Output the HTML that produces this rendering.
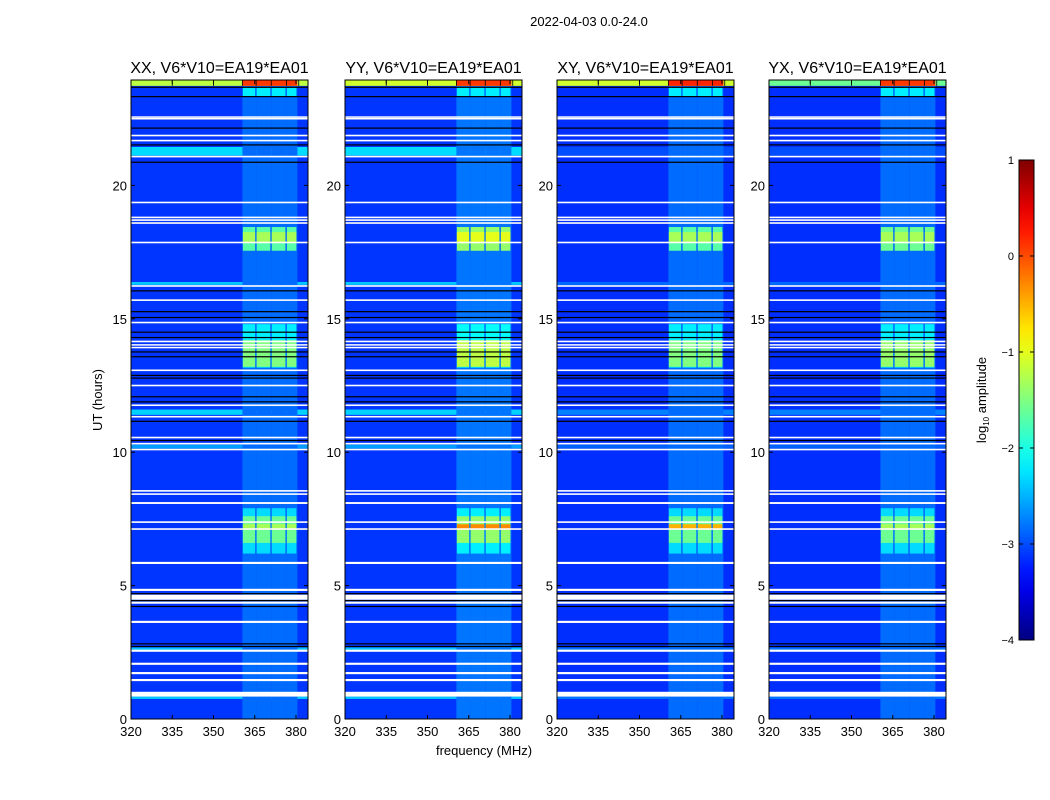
<!DOCTYPE html>
<html><head><meta charset="utf-8"><style>
body{margin:0;background:#fff;}
svg{display:block;font-family:"Liberation Sans",sans-serif;}
</style></head><body>
<svg id="chart" width="1050" height="800" xmlns="http://www.w3.org/2000/svg">
<text x="589" y="26" font-size="13" text-anchor="middle">2022-04-03 0.0-24.0</text>
<text x="484" y="755" font-size="13" text-anchor="middle">frequency (MHz)</text>
<text transform="translate(102,400) rotate(-90)" font-size="13" text-anchor="middle">UT (hours)</text>
<g id="panels"></g>
<g id="cbar"></g>
</svg>
<script>
const panelTitles = ["XX, V6*V10=EA19*EA01","YY, V6*V10=EA19*EA01","XY, V6*V10=EA19*EA01","YX, V6*V10=EA19*EA01"];
const xTicks = [320,335,350,365,380];
const yTicks = [0,5,10,15,20];
const cbTicks = [1,0,-1,-2,-3,-4];
const channels = [[360.5,365.5],[365.5,371],[371,376.5],[376.5,380.5]];
const backgroundLevel = [-3.12,-3.12,-3.15,-3.15];
const columnLevel = [-2.85,-2.8,-2.85,-2.85];
// flagged (white) time intervals, hours
const whiteFlags = [[0.84,1.02],[1.42,1.5],[1.68,1.76],[2.03,2.11],[2.52,2.6],[3.6,3.68],[4.32,4.4],[4.47,4.66],[4.8,4.88],[5.81,5.89],[7.09,7.15],[7.35,7.41],[8.06,8.13],[8.4,8.46],[8.52,8.58],[10.07,10.13],[10.29,10.35],[10.52,10.58],[11.3,11.36],[11.73,11.79],[12.47,12.53],[13.04,13.1],[13.9,13.95],[14.0,14.05],[14.12,14.18],[14.83,14.89],[15.67,15.73],[16.2,16.26],[17.83,17.89],[18.56,18.62],[18.67,18.73],[18.77,18.83],[19.33,19.39],[21.05,21.11],[21.65,21.71],[21.84,21.9],[22.47,22.53],[22.54,22.59]];
// black (zero) time rows
const blackFlags = [[2.7,2.74],[2.8,2.84],[4.2,4.24],[4.42,4.46],[4.68,4.72],[10.42,10.46],[11.14,11.18],[11.87,11.91],[12.06,12.1],[12.76,12.8],[12.86,12.9],[13.56,13.6],[13.74,13.78],[14.28,14.32],[14.48,14.52],[15.03,15.07],[15.25,15.29],[16.03,16.07],[20.85,20.89],[21.5,21.54],[22.13,22.17],[23.31,23.35],[23.66,23.7]];
// broadband enhanced rows: start, end, level per panel XX,YY,XY,YX
const bandRows = [[0.75,0.84,-2.4,-2.4,-2.8,-2.8],[2.6,2.68,-2.4,-2.4,-2.8,-2.8],[10.14,10.28,-2.6,-2.6,-2.9,-2.9],[11.4,11.6,-2.35,-2.35,-2.75,-2.75],[16.27,16.38,-2.4,-2.4,-2.85,-2.85],[21.12,21.44,-2.3,-2.3,-3.0,-3.0]];
// RFI blocks in channels: start, end, level XX,YY,XY,YX
const blocks = [[6.2,7.9,-2.3,-2.2,-2.3,-2.3],[6.6,7.6,-1.6,-1.4,-1.6,-1.6],[7.1,7.3,-1.3,-0.3,-0.5,-1.3],[13.17,14.8,-2.2,-2.1,-2.2,-2.2],[13.2,14.2,-1.5,-1.2,-1.5,-1.4],[17.55,18.44,-1.7,-1.4,-1.7,-1.6],[17.85,18.25,-1.3,-1.0,-1.3,-1.3],[23.35,23.66,-2.2,-2.2,-2.2,-2.2]];
// top row (23.73-24): level left of channels, level in channels
const topRowLeft = [-1.2,-1.1,-1.1,-1.6];
const topRowChan = [0.1,0.1,0.2,0.1];

function jet(v){const t=Math.max(0,Math.min(1,(v+4)/5));const c=x=>Math.round(255*Math.max(0,Math.min(1,1.5-Math.abs(x))));return `rgb(${c(4*t-3)},${c(4*t-2)},${c(4*t-1)})`;}
const NS="http://www.w3.org/2000/svg";
const x0s=[131,345,557,769], PW=177, Y0=719, PPH=26.68, TOP=80;
const yS=h=>Y0-h*PPH;
function mk(tag,attrs,parent){const e=document.createElementNS(NS,tag);for(const k in attrs)e.setAttribute(k,attrs[k]);parent.appendChild(e);return e;}
const root=document.getElementById('panels');
panelTitles.forEach((title,p)=>{
  const x0=x0s[p]; const xS=f=>x0+(f-320)*2.75;
  const g=mk('g',{},root);
  
  
  const cp=mk('clipPath',{id:'cp'+p},g);mk('rect',{x:x0,y:TOP,width:PW,height:Y0-TOP},cp);
  const d=mk('g',{'clip-path':`url(#cp${p})`},g);
  const bg=mk('rect',{x:x0,y:TOP,width:PW,height:Y0-TOP,fill:jet(backgroundLevel[p])},d);
  
  
  bandRows.forEach(b=>{const r=mk('rect',{x:x0,y:yS(b[1]),width:PW,height:yS(b[0])-yS(b[1]),fill:jet(b[2+p])},d);
    });
  channels.forEach(c=>{const r=mk('rect',{x:xS(c[0]),y:TOP,width:xS(c[1])-xS(c[0]),height:Y0-TOP,fill:jet(columnLevel[p])},d);
    });
  blocks.forEach(b=>channels.forEach(c=>{const r=mk('rect',{x:xS(c[0])+0.5,y:yS(b[1]),width:xS(c[1])-xS(c[0])-1.5,height:yS(b[0])-yS(b[1]),fill:jet(b[2+p])},d);
    }));
  whiteFlags.forEach(w=>{const r=mk('rect',{x:x0,y:yS(w[1]),width:PW,height:Math.max(1.5,yS(w[0])-yS(w[1])),fill:'#fff'},d);
    });
  blackFlags.forEach(w=>{const r=mk('rect',{x:x0,y:yS(w[1]),width:PW,height:Math.max(1.2,yS(w[0])-yS(w[1])),fill:'#000'},d);
    });
  const tr=mk('rect',{x:x0,y:yS(24),width:PW,height:yS(23.73)-yS(24),fill:jet(topRowLeft[p])},d);
  
  channels.forEach(c=>{const r=mk('rect',{x:xS(c[0]),y:yS(24),width:xS(c[1])-xS(c[0]),height:yS(23.73)-yS(24),fill:jet(topRowChan[p])},d);
    });
  [335,350,360.5,365.5,371,376.5,381].forEach(f=>mk('line',{x1:xS(f),x2:xS(f),y1:TOP,y2:yS(23.73),stroke:'#000','stroke-width':0.8},d));
  const fr=mk('rect',{x:x0,y:TOP,width:PW,height:Y0-TOP,fill:'none',stroke:'#000','stroke-width':1},g);
  
  const t=mk('text',{x:x0+PW/2,y:73,'font-size':16,'text-anchor':'middle'},g);t.textContent=title;
  
  xTicks.forEach(f=>{mk('line',{x1:xS(f),x2:xS(f),y1:Y0,y2:Y0-4,stroke:'#000'},g);mk('line',{x1:xS(f),x2:xS(f),y1:TOP,y2:TOP+4,stroke:'#000'},g);
    const l=mk('text',{x:xS(f),y:Y0+17,'font-size':13,'text-anchor':'middle'},g);l.textContent=f;
    });
  yTicks.forEach(h=>{mk('line',{x1:x0,x2:x0+4,y1:yS(h),y2:yS(h),stroke:'#000'},g);mk('line',{x1:x0+PW,x2:x0+PW-4,y1:yS(h),y2:yS(h),stroke:'#000'},g);
    const l=mk('text',{x:x0-4,y:yS(h)+5,'font-size':13,'text-anchor':'end'},g);l.textContent=h;
    });
});
// colorbar
const cb=document.getElementById('cbar');const CX=1019,CW=15,CT=160,CB=640;
const cbY=v=>CB-(v+4)/5*(CB-CT);
const defs=mk('defs',{},cb);const lg=mk('linearGradient',{id:'jetg',x1:0,y1:1,x2:0,y2:0},defs);
for(let i=0;i<=20;i++){const v=-4+i*0.25;mk('stop',{offset:(i/20),'stop-color':jet(v)},lg);}
mk('rect',{x:CX,y:CT,width:CW,height:CB-CT,fill:'url(#jetg)',stroke:'#000','stroke-width':1},cb);
cbTicks.forEach(v=>{mk('line',{x1:CX,x2:CX+4,y1:cbY(v),y2:cbY(v),stroke:'#000'},cb);mk('line',{x1:CX+CW,x2:CX+CW-4,y1:cbY(v),y2:cbY(v),stroke:'#000'},cb);
  const l=mk('text',{x:CX-5,y:cbY(v)+4,'font-size':11,'text-anchor':'end'},cb);l.textContent=v<0?'\u2212'+(-v):v;
  });
const cl=mk('text',{transform:'translate(986,400) rotate(-90)','font-size':13,'text-anchor':'middle'},cb);
cl.innerHTML='log<tspan font-size="8" dy="3">10</tspan><tspan dy="-3"> amplitude</tspan>';

</script>
</body></html>
